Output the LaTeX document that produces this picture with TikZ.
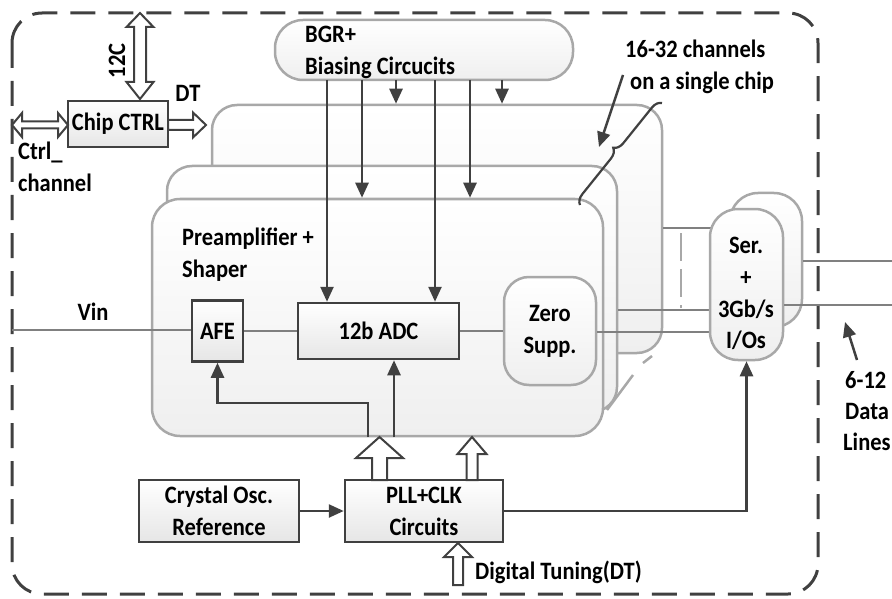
\documentclass[tikz,border=0pt]{standalone}
\usepackage{fontspec}
\setmainfont{Carlito}[FakeStretch=0.9]
\usetikzlibrary{arrows.meta,decorations.pathreplacing,calc}
\definecolor{dk}{HTML}{404040}
\definecolor{lg}{HTML}{A8A8A8}
\definecolor{gl}{HTML}{808080}
\definecolor{fillb}{HTML}{E6E6E6}
\definecolor{fills}{HTML}{EFEFEF}
% vertical hollow arrow: cx, ybase, ytip, shaft half width, head half width, signed head length
\newcommand{\hollowV}[6]{%
  \draw[hollow] ({#1-#4},#2) -- ({#1-#4},{#3+#6}) -- ({#1-#5},{#3+#6}) -- (#1,#3)
    -- ({#1+#5},{#3+#6}) -- ({#1+#4},{#3+#6}) -- ({#1+#4},#2) -- cycle;}
\begin{document}
\begin{tikzpicture}[x=1pt,y=-1pt,
  txt/.style={font=\fontsize{25}{32}\selectfont\bfseries,text=black,inner sep=0pt},
  darkbox/.style={draw=dk,line width=2.5pt,top color=white,bottom color=fillb,txt,align=center},
  softbox/.style={draw=lg,line width=2.5pt,top color=white,bottom color=fills,rounded corners=#1},
  sig/.style={draw=gl,line width=2.5pt},
  arr/.style={draw=dk,line width=2.5pt,-{Triangle[length=15pt,width=13pt]}},
  hollow/.style={draw=dk,line width=2pt,fill=white,line join=miter},
  border/.style={draw=dk,line width=3pt,dash pattern=on 25pt off 13pt,rounded corners=30pt}
]
\useasboundingbox (0,0) rectangle (892,599);
% outer dashed border
\draw[border] (12,13) rectangle (818,594);

% stacked channel boxes
\node[softbox=25pt,minimum width=450pt,minimum height=248pt] (back) at (437,229) {};
\node[softbox=25pt,minimum width=450pt,minimum height=246pt] (mid) at (392,289) {};
\coordinate (e1a) at (607,410); \coordinate (e1b) at (633,375);
\coordinate (e2a) at (643,363); \coordinate (e2b) at (652,356);
\draw[draw=lg,line width=2.5pt] (e1a) -- (e1b);
\draw[draw=lg,line width=2.5pt] (e2a) -- (e2b);
\node[softbox=28pt,minimum width=451pt,minimum height=237pt] (front) at (377.5,317.5) {};
\node[txt,anchor=base west] (pre1) at (182,245) {Preamplifier +};
\node[txt,anchor=base west] (pre2) at (182,277) {Shaper};

% inner blocks
\node[darkbox,minimum width=51pt,minimum height=61pt] (afe) at (217.5,331) {AFE};
\node[darkbox,minimum width=161pt,minimum height=56pt] (adc) at (378.5,331) {12b ADC};
\node[softbox=25pt,txt,align=center,minimum width=92pt,minimum height=108pt] (zero) at (550,331) {Zero\\Supp.};

% signal lines
\coordinate (vinL) at (12,330);
\draw[sig] (vinL) -- (vinL -| afe.west);
\node[txt,anchor=base] (vin) at (93,320) {Vin};
\draw[sig] (afe.east) -- (adc.west);
\draw[sig] (adc.east) -- (zero.west);
\coordinate (s1) at (700,332);
\coordinate (s2) at (700,310);
\coordinate (s3) at (700,228);
\draw[sig] (zero.east |- s1) -- (s1) -- (715,332);
\draw[sig] (mid.east |- s2) -- (715,310);
\draw[sig] (back.east |- s3) -- (715,228);
\coordinate (dv1) at (681,233); \coordinate (dv2) at (681,308);
\draw[draw=lg,line width=2.5pt,dash pattern=on 28pt off 8pt] (dv1) -- (dv2);

% serializer
\node[softbox=28pt,minimum width=72pt,minimum height=134pt] (serb) at (766,260) {};
\node[softbox=28pt,minimum width=73pt,minimum height=151pt] (ser) at (746.5,284.5) {};
\node[txt,anchor=base] (sert1) at (746,253) {Ser.};
\node[txt,anchor=base] (sert2) at (746,285) {+};
\node[txt,anchor=base] (sert3) at (746,317) {3Gb/s};
\node[txt,anchor=base] (sert4) at (746,348) {I/Os};
\coordinate (outA) at (892,261);
\coordinate (outB) at (892,305);
\draw[sig] (outA -| serb.east) -- (outA);
\draw[sig] (outB -| ser.east) -- (outB);
\coordinate (dlT) at (845,322); \coordinate (dlS) at (857,360);
\draw[arr] (dlS) -- (dlT);
\node[txt,anchor=base west] (dl1) at (845,388) {6-12};
\node[txt,anchor=base west] (dl2) at (845,419) {Data};
\node[txt,anchor=base west] (dl3) at (843,450) {Lines};

% BGR
\node[softbox=28pt,minimum width=298pt,minimum height=60pt] (bgr) at (424,50) {};
\node[txt,anchor=base west] (bgr1) at (305,43) {BGR+};
\node[txt,anchor=base west] (bgr2) at (305,75) {Biasing Circucits};
\coordinate (b1) at (327,80); \coordinate (b2) at (362,80); \coordinate (b3) at (396,80);
\coordinate (b4) at (435,80); \coordinate (b5) at (470,80); \coordinate (b6) at (502,80);
\draw[arr] (b1) -- (b1 |- adc.north);
\draw[arr] (b2) -- (b2 |- front.north);
\draw[arr] (b3) -- (b3 |- back.north);
\draw[arr] (b4) -- (b4 |- adc.north);
\draw[arr] (b5) -- (b5 |- front.north);
\draw[arr] (b6) -- (b6 |- back.north);

% chip control
\node[darkbox,minimum width=100pt,minimum height=46pt] (ctrl) at (118,124) {Chip CTRL};
\draw[hollow] (12,125) -- (22,113) -- (22,121.5) -- (58,121.5) -- (58,113) -- (68,125)
  -- (58,137) -- (58,128.5) -- (22,128.5) -- (22,137) -- cycle;
\draw[hollow] (168,120) -- (193,120) -- (193,112.5) -- (206,125) -- (193,137.5) -- (193,130) -- (168,130) -- cycle;
\draw[hollow] (134,27) -- (126.5,27) -- (140,13) -- (153.5,27) -- (146,27) -- (146,82)
  -- (153.5,82) -- (140,99) -- (126.5,82) -- (134,82) -- cycle;
\node[txt,rotate=90] (i2c) at (117,61) {12C};
\node[txt,anchor=base] (dt) at (188,102) {DT};
\node[txt,anchor=base west] (cc1) at (18,160) {Ctrl\_};
\node[txt,anchor=base west] (cc2) at (18,192) {channel};

% clock
\node[darkbox,minimum width=160pt,minimum height=62pt] (xtal) at (219,511) {Crystal Osc.\\Reference};
\node[darkbox,minimum width=158pt,minimum height=62pt] (pll) at (424,511) {PLL+CLK\\Circuits};
\draw[arr] (xtal.east) -- (pll.west);
\draw[arr] (pll.east) -| (ser.south);
\hollowV{379.5}{480}{437}{7.5}{23.5}{21}
\hollowV{472}{480}{437}{5.5}{14.5}{17}
\hollowV{458}{585}{543}{5}{14}{14}
\node[txt,anchor=base west] (dtun) at (475,579) {Digital Tuning(DT)};
\coordinate (f1) at (368,437);
\coordinate (f2) at (394,437);
\draw[arr] (f1) |- ($(afe.south)+(0,40)$) -- (afe.south);
\draw[arr] (f2) -- (f2 |- adc.south);

% channel count annotation
\draw[draw=dk,line width=2.2pt,decorate,decoration={brace,amplitude=10pt}] (580,205) -- (662,103);
\coordinate (pA) at (623,75); \coordinate (pB) at (599,147);
\draw[arr] (pA) -- (pB);
\node[txt,anchor=base west] (ch1) at (625,58) {16-32 channels};
\node[txt,anchor=base west] (ch2) at (630,90) {on a single chip};
\end{tikzpicture}
\end{document}
